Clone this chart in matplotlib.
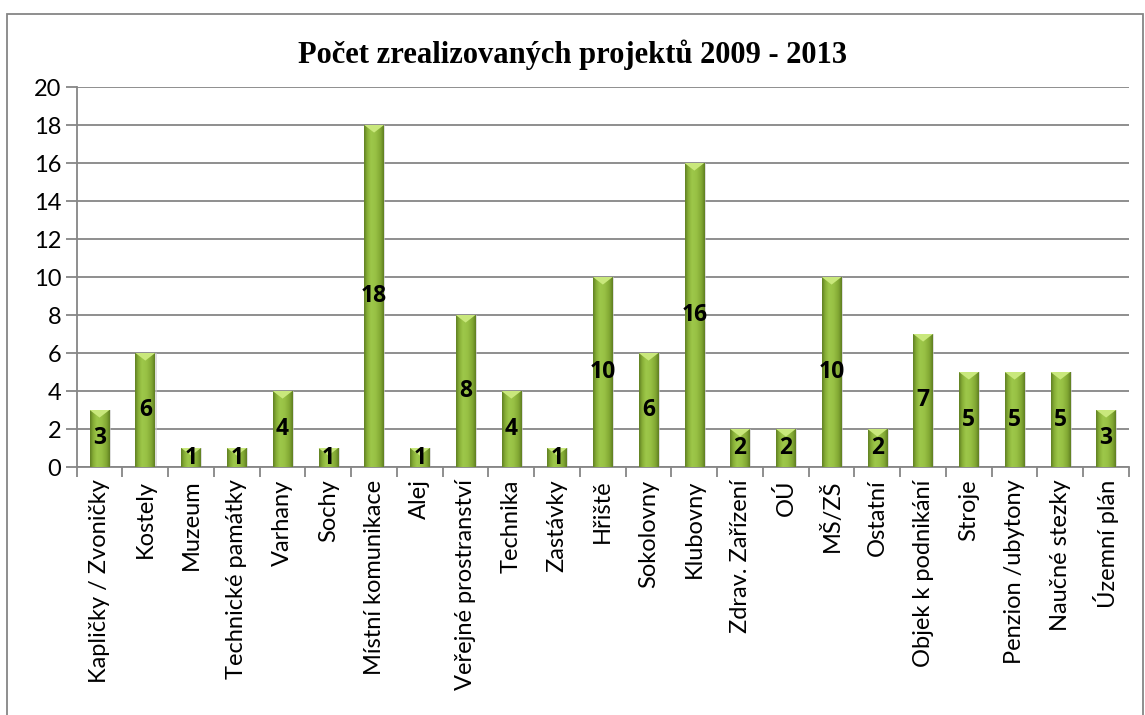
import matplotlib
matplotlib.use("Agg")
import matplotlib.pyplot as plt
import numpy as np
from matplotlib.patches import Rectangle, Polygon
from matplotlib.colors import LinearSegmentedColormap

categories = ["Kapličky / Zvoničky", "Kostely", "Muzeum", "Technické památky", "Varhany",
              "Sochy", "Místní komunikace", "Alej", "Veřejné prostranství", "Technika",
              "Zastávky", "Hřiště", "Sokolovny", "Klubovny", "Zdrav. Zařízení", "OÚ",
              "MŠ/ZŠ", "Ostatní", "Objek k podnikání", "Stroje", "Penzion /ubytony",
              "Naučné stezky", "Územní plán"]
values = [3, 6, 1, 1, 4, 1, 18, 1, 8, 4, 1, 10, 6, 16, 2, 2, 10, 2, 7, 5, 5, 5, 3]
yticks = [0, 2, 4, 6, 8, 10, 12, 14, 16, 18, 20]
title = "Počet zrealizovaných projektů 2009 - 2013"

fig = plt.figure(figsize=(11.45, 7.15), dpi=100)
fig.patch.set_facecolor("white")
# outer chart border
fig.patches.append(Rectangle((7/1145, -0.05), (1143-7)/1145, 1.05 - 14/715,
                             transform=fig.transFigure, fill=False,
                             edgecolor="#868686", linewidth=1.3, zorder=0))

ax = fig.add_axes([76.7/1145, 1-467/715, (1129-76.7)/1145, (467-87)/715])
x = np.arange(len(categories))
bars = ax.bar(x, values, width=0.43, color="#8db53a", zorder=3, linewidth=0)

cmap = LinearSegmentedColormap.from_list(
    "g", [(0.0, "#5f7f22"), (0.15, "#86ad36"), (0.35, "#9ec84a"),
          (0.6, "#97c044"), (0.85, "#80a632"), (1.0, "#5e7d21")])
grad = np.linspace(0, 1, 64).reshape(1, -1)
for b in bars:
    x0, w, h = b.get_x(), b.get_width(), b.get_height()
    im = ax.imshow(grad, cmap=cmap, aspect="auto", extent=(x0, x0 + w, 0, h),
                   zorder=3.5, interpolation="bicubic")
    im.set_clip_path(b)
    th = min(0.4, h * 0.4)
    tri = Polygon([(x0, h), (x0 + w, h), (x0 + w / 2, h - th)], closed=True,
                  facecolor="#c9e87c", edgecolor="none", zorder=4)
    ax.add_patch(tri)
    # right shadow
    ax.add_patch(Rectangle((x0 + w, 0), 0.03, h, facecolor="#c8c8c8", alpha=0.6,
                           edgecolor="none", zorder=2.5))

for xi, v in zip(x, values):
    ax.text(xi, v / 2, str(v), ha="center", va="center", fontsize=16.5,
            fontweight="bold", family="Open Sans", color="black", zorder=6)

ax.set_xlim(-0.5, len(categories) - 0.5)
ax.set_ylim(0, 20)
ax.set_yticks(yticks)
ax.set_yticklabels([str(t) for t in yticks], family="Lato", fontsize=17)
ax.set_xticks(x)
ax.set_xticklabels(categories, rotation=90, family="Lato", fontsize=17)
ax.set_xticks(np.arange(len(categories) + 1) - 0.5, minor=True)
ax.tick_params(axis="x", which="major", length=0, pad=9)
ax.tick_params(axis="x", which="minor", length=7, color="#868686", width=1.3)
ax.tick_params(axis="y", length=8, color="#868686", width=1.3, pad=3)
ax.yaxis.grid(True, color="#868686", linewidth=1.3, zorder=0)
ax.set_axisbelow(True)
for s in ["top", "right"]:
    ax.spines[s].set_visible(False)
for s in ["left", "bottom"]:
    ax.spines[s].set_color("#868686")
    ax.spines[s].set_linewidth(1.3)

fig.text(0.5, 1 - 55/715, title, ha="center", va="center", fontsize=22,
         fontweight="bold", family="Liberation Serif")

fig.savefig("out.png", dpi=100)
